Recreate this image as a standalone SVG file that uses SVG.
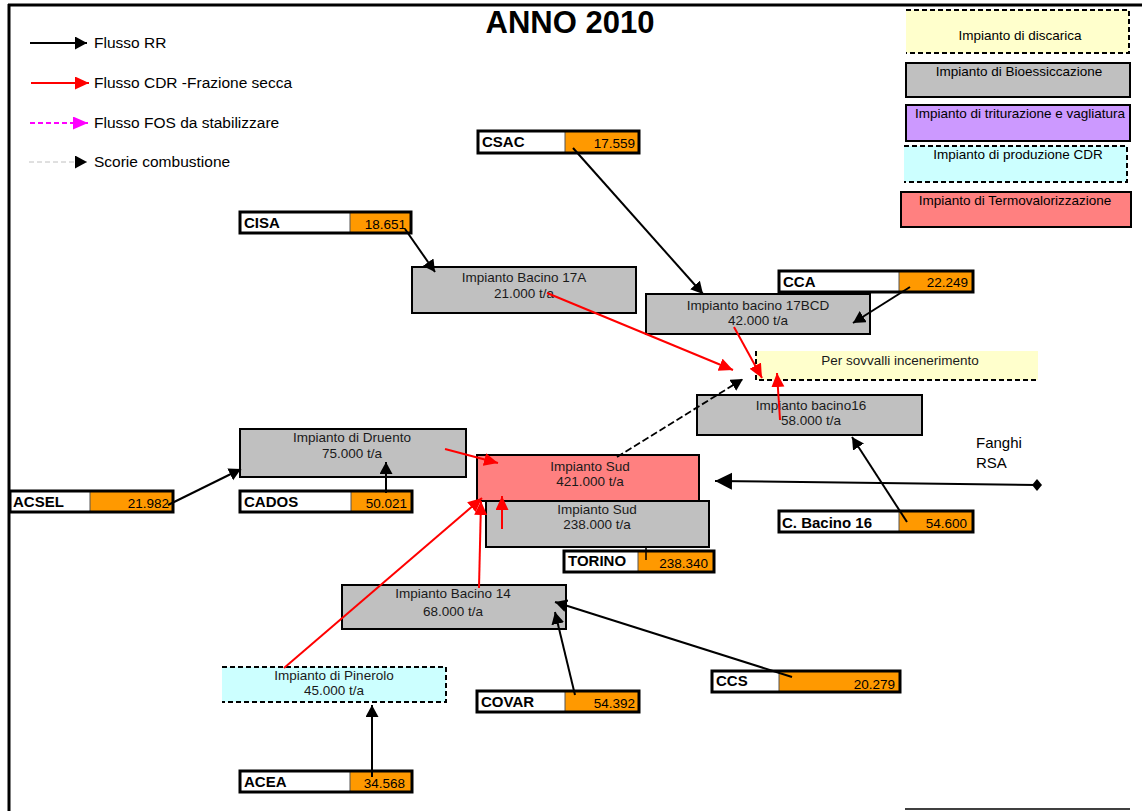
<svg xmlns="http://www.w3.org/2000/svg" width="1142" height="811" viewBox="0 0 1142 811">
<defs>
<style>
text{font-family:"Liberation Sans",Arial,sans-serif;fill:#000}
.lg{font-size:15.5px}
.lk{font-size:13.5px;text-anchor:middle}
.pt{font-size:13.5px;text-anchor:middle;fill:#1a1a1a}
.sl{font-size:15px;font-weight:bold}
.sv{font-size:13.5px;text-anchor:end}
.gray{fill:#C0C0C0;stroke:#000;stroke-width:2}
.red{fill:#FF8080;stroke:#000;stroke-width:2}
.dash{fill:none;stroke:#000;stroke-width:2;stroke-dasharray:5 3}
.sw{fill:#fff}
.so{fill:#FF9900}
.sb{fill:none;stroke:#000;stroke-width:3}
.sd{stroke:#555;stroke-width:1}
.cb{fill:none;stroke:#000;stroke-width:2;marker-end:url(#ab)}
.cr{fill:none;stroke:#FF0000;stroke-width:2;marker-end:url(#ar)}
</style>
<marker id="ab" markerUnits="userSpaceOnUse" markerWidth="14" markerHeight="14" refX="12" refY="6.5" orient="auto"><path d="M0,0 L12,6.5 L0,13 Z" fill="#000"/></marker>
<marker id="ar" markerUnits="userSpaceOnUse" markerWidth="16" markerHeight="14" refX="14" refY="6.5" orient="auto"><path d="M0,0 L14,6.5 L0,13 Z" fill="#FF0000"/></marker>
<marker id="am" markerUnits="userSpaceOnUse" markerWidth="16" markerHeight="14" refX="15" refY="6.5" orient="auto"><path d="M0,0 L15,6.5 L0,13 Z" fill="#FF00FF"/></marker>
<marker id="abig" markerUnits="userSpaceOnUse" markerWidth="18" markerHeight="18" refX="17" refY="8.5" orient="auto"><path d="M0,0 L17,8.5 L0,17 Z" fill="#000"/></marker>
</defs>
<rect x="0" y="0" width="1142" height="811" fill="#fff"/>
<g id="frame">
<line x1="9" y1="4" x2="9" y2="811" stroke="#000" stroke-width="3"/>
<line x1="8" y1="5" x2="1142" y2="5" stroke="#000" stroke-width="3"/>
<line x1="905" y1="809" x2="1130" y2="809" stroke="#000" stroke-width="1.5"/>
</g>
<text id="title" x="570" y="33" font-size="31" font-weight="bold" text-anchor="middle">ANNO 2010</text>
<g id="legend-flows">
<line x1="30" y1="43" x2="87" y2="43" stroke="#000" stroke-width="2" marker-end="url(#ab)"/>
<text class="lg" x="94" y="48">Flusso RR</text>
<line x1="31" y1="83" x2="89" y2="83" stroke="#FF0000" stroke-width="2" marker-end="url(#ar)"/>
<text class="lg" x="94" y="88">Flusso CDR -Frazione secca</text>
<line x1="30" y1="123" x2="88" y2="123" stroke="#FF00FF" stroke-width="2" stroke-dasharray="5 3" marker-end="url(#am)"/>
<text class="lg" x="94" y="128">Flusso FOS da stabilizzare</text>
<line x1="29" y1="162" x2="87" y2="162" stroke="#C0C0C0" stroke-width="1" stroke-dasharray="5 3" marker-end="url(#ab)"/>
<text class="lg" x="94" y="167">Scorie combustione</text>
</g>
<g id="legend-plants">
<g id="leg-discarica"><rect x="906" y="10" width="223" height="43" fill="#FFFFCC"/><path class="dash" d="M906,10 H1129 V53 H906"/><text class="lk" x="1020" y="40">Impianto di discarica</text></g>
<g id="leg-bio"><rect class="gray" x="906" y="63" width="224" height="34"/><text class="lk" x="1019" y="76">Impianto di Bioessiccazione</text></g>
<g id="leg-trit"><rect x="906" y="105" width="224" height="36" fill="#CC99FF" stroke="#000" stroke-width="2"/><text class="lk" x="1020" y="118">Impianto di triturazione e vagliatura</text></g>
<g id="leg-cdr"><rect x="904" y="146" width="223" height="36" fill="#CCFFFF"/><path class="dash" d="M904,146 H1127 V182 H904"/><text class="lk" x="1018" y="159">Impianto di produzione CDR</text></g>
<g id="leg-termo"><rect class="red" x="901" y="192" width="230" height="35"/><text class="lk" x="1015" y="205">Impianto di Termovalorizzazione</text></g>
</g>
<g id="plants">
<g id="b17a"><rect class="gray" x="412" y="267" width="224" height="46"/><text class="pt" x="524" y="282">Impianto Bacino 17A</text><text class="pt" x="524" y="298">21.000 t/a</text></g>
<g id="b17bcd"><rect class="gray" x="646" y="294" width="224" height="40"/><text class="pt" x="758" y="310">Impianto bacino 17BCD</text><text class="pt" x="758" y="325">42.000 t/a</text></g>
<g id="sovvalli"><rect x="756" y="351" width="282" height="29" fill="#FFFFCC"/><path class="dash" d="M756,351 V380 H1038"/><text class="pt" x="900" y="365">Per sovvalli incenerimento</text></g>
<g id="b16"><rect class="gray" x="697" y="395" width="225" height="40"/><text class="pt" x="811" y="410">Impianto bacino16</text><text class="pt" x="811" y="425">58.000 t/a</text></g>
<g id="druento"><rect class="gray" x="240" y="429" width="226" height="48"/><text class="pt" x="352" y="442">Impianto di Druento</text><text class="pt" x="352" y="458">75.000 t/a</text></g>
<g id="sudgray"><rect class="gray" x="486" y="501" width="223" height="46"/><text class="pt" x="597" y="514">Impianto Sud</text><text class="pt" x="597" y="529">238.000 t/a</text></g>
<g id="sudred"><rect class="red" x="477" y="455" width="222" height="46"/><text class="pt" x="590" y="471">Impianto Sud</text><text class="pt" x="590" y="486">421.000 t/a</text></g>
<g id="b14"><rect class="gray" x="342" y="585" width="224" height="44"/><text class="pt" x="453" y="598">Impianto Bacino 14</text><text class="pt" x="453" y="616">68.000 t/a</text></g>
<g id="pinerolo"><rect x="222" y="667" width="224" height="35" fill="#CCFFFF"/><path class="dash" d="M222,667 H446 V702 H222"/><text class="pt" x="334" y="680">Impianto di Pinerolo</text><text class="pt" x="334" y="695">45.000 t/a</text></g>
<text id="fanghi" font-size="15" x="976" y="448">Fanghi<tspan x="976" y="468">RSA</tspan></text>
</g>
<g id="sources">
<g id="cisa"><rect class="sw" x="240" y="212" width="110" height="21"/><rect class="so" x="350" y="212" width="61" height="21"/><line class="sd" x1="350" y1="212" x2="350" y2="233"/><rect class="sb" x="240" y="212" width="171" height="21"/><text class="sl" x="244" y="228">CISA</text><text class="sv" x="406" y="229">18.651</text></g>
<g id="csac"><rect class="sw" x="478" y="131" width="87" height="22"/><rect class="so" x="565" y="131" width="74" height="22"/><line class="sd" x1="565" y1="131" x2="565" y2="153"/><rect class="sb" x="478" y="131" width="161" height="22"/><text class="sl" x="482" y="147">CSAC</text><text class="sv" x="635" y="148">17.559</text></g>
<g id="cca"><rect class="sw" x="779" y="271" width="120" height="21"/><rect class="so" x="899" y="271" width="74" height="21"/><line class="sd" x1="899" y1="271" x2="899" y2="292"/><rect class="sb" x="779" y="271" width="194" height="21"/><text class="sl" x="783" y="287">CCA</text><text class="sv" x="968" y="287">22.249</text></g>
<g id="acsel"><rect class="sw" x="10" y="491" width="80" height="21"/><rect class="so" x="90" y="491" width="83" height="21"/><line class="sd" x1="90" y1="491" x2="90" y2="512"/><rect class="sb" x="10" y="491" width="163" height="21"/><text class="sl" x="13" y="507">ACSEL</text><text class="sv" x="169" y="508">21.982</text></g>
<g id="cados"><rect class="sw" x="240" y="491" width="111" height="21"/><rect class="so" x="351" y="491" width="61" height="21"/><line class="sd" x1="351" y1="491" x2="351" y2="512"/><rect class="sb" x="240" y="491" width="172" height="21"/><text class="sl" x="244" y="507">CADOS</text><text class="sv" x="407" y="508">50.021</text></g>
<g id="torino"><rect class="sw" x="564" y="551" width="74" height="21"/><rect class="so" x="638" y="551" width="76" height="21"/><line class="sd" x1="638" y1="551" x2="638" y2="572"/><rect class="sb" x="564" y="551" width="150" height="21"/><text class="sl" x="568" y="566">TORINO</text><text class="sv" x="708" y="568">238.340</text></g>
<g id="cbacino16"><rect class="sw" x="779" y="511" width="120" height="21"/><rect class="so" x="899" y="511" width="74" height="21"/><line class="sd" x1="899" y1="511" x2="899" y2="532"/><rect class="sb" x="779" y="511" width="194" height="21"/><text class="sl" x="782" y="528">C. Bacino 16</text><text class="sv" x="967" y="528">54.600</text></g>
<g id="ccs"><rect class="sw" x="712" y="671" width="67" height="21"/><rect class="so" x="779" y="671" width="121" height="21"/><line class="sd" x1="779" y1="671" x2="779" y2="692"/><rect class="sb" x="712" y="671" width="188" height="21"/><text class="sl" x="716" y="686">CCS</text><text class="sv" x="895" y="689">20.279</text></g>
<g id="covar"><rect class="sw" x="477" y="691" width="88" height="21"/><rect class="so" x="565" y="691" width="74" height="21"/><line class="sd" x1="565" y1="691" x2="565" y2="712"/><rect class="sb" x="477" y="691" width="162" height="21"/><text class="sl" x="481" y="707">COVAR</text><text class="sv" x="635" y="708">54.392</text></g>
<g id="acea"><rect class="sw" x="240" y="771" width="110" height="21"/><rect class="so" x="350" y="771" width="62" height="21"/><line class="sd" x1="350" y1="771" x2="350" y2="792"/><rect class="sb" x="240" y="771" width="172" height="21"/><text class="sl" x="244" y="787">ACEA</text><text class="sv" x="405" y="788">34.568</text></g>
</g>
<g id="connectors">
<line class="cb" x1="405" y1="229" x2="435" y2="272"/>
<line class="cb" x1="573" y1="148" x2="703" y2="294"/>
<line class="cb" x1="910" y1="287" x2="853" y2="323"/>
<line class="cb" x1="168" y1="505" x2="241" y2="469"/>
<line class="cb" x1="386" y1="493" x2="386" y2="462"/>
<line x1="646" y1="547" x2="646" y2="560" stroke="#000" stroke-width="1.5"/>
<line class="cb" x1="907" y1="522" x2="852" y2="437"/>
<line x1="1037" y1="485" x2="715" y2="481" stroke="#000" stroke-width="2" marker-end="url(#abig)"/>
<path d="M1037,479 L1042,485 L1037,491 L1032,485 Z" fill="#000"/>
<line class="cb" x1="575" y1="695" x2="555" y2="612"/>
<line class="cb" x1="792" y1="677" x2="555" y2="602"/>
<line class="cb" x1="372" y1="777" x2="372" y2="705"/>
<line class="cr" x1="547" y1="293" x2="733" y2="370"/>
<line class="cr" x1="734" y1="327" x2="762" y2="378"/>
<line class="cr" x1="780" y1="420" x2="777" y2="373"/>
<line class="cr" x1="445" y1="449" x2="498" y2="463"/>
<line class="cr" x1="502" y1="529" x2="502" y2="496"/>
<line class="cr" x1="284" y1="668" x2="482" y2="498"/>
<line class="cr" x1="479" y1="588" x2="481" y2="501"/>
<line x1="617" y1="457" x2="743" y2="379" stroke="#000" stroke-width="1.8" stroke-dasharray="7 3" marker-end="url(#ab)"/>
</g>
</svg>
